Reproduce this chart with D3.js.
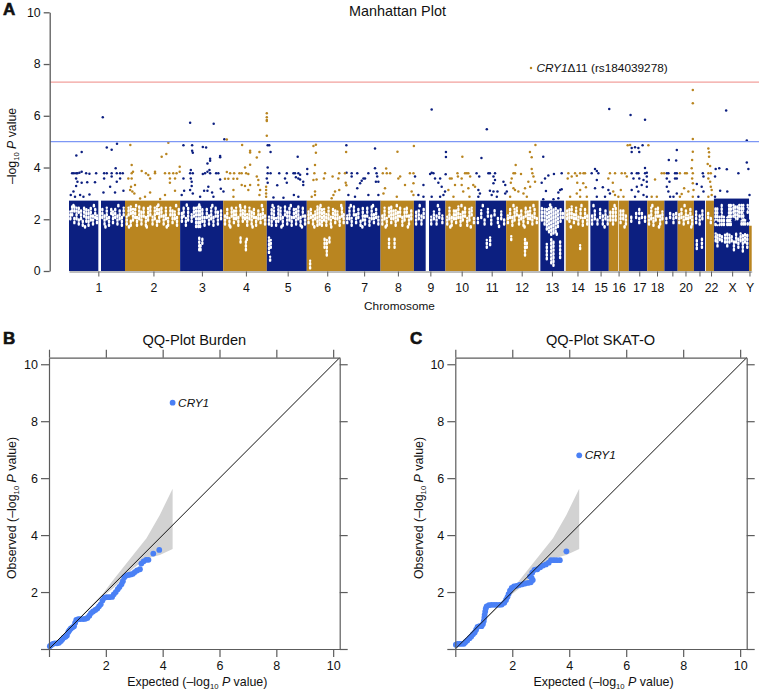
<!DOCTYPE html>
<html><head><meta charset="utf-8">
<script src="https://cdn.jsdelivr.net/npm/d3@7"></script>
<style>
html,body{margin:0;padding:0;background:#fff}
svg{display:block}
text{font-family:"Liberation Sans",Arial,sans-serif;fill:#111}
</style></head><body>
<svg id="c" width="765" height="696"></svg>
<script>
// ---------- Panel A data (cumulative genome position in Mb, -log10 P) ----------
const chromNames = ["1","2","3","4","5","6","7","8","9","10","11","12","13","14","15","16","17","18","19","20","21","22","X","Y"];
const chromStart = [0,252,500,694,890,1070,1244,1402,1552,1694,1830,1967,2121,2235,2346,2429,2519,2602,2679,2739,2812,2866,2902,3060];
const chromEnd   = [252,500,694,890,1070,1244,1402,1552,1694,1830,1967,2113,2228,2337,2429,2519,2602,2679,2739,2812,2862,2902,3060,3072];
const chromTicks = [132,380,598,796,984,1162,1328,1480,1626,1767,1902,2037,2173,2288,2392,2473,2566,2646,2715,2774,2837,2889,2984,3062];
const chromTickLabels = ["1","2","3","4","5","6","7","8","9","10","11","12","13","14","15","16","17","18","","20","","22","X","Y"];
const chromTop = [2.72,2.72,2.72,2.72,2.72,2.72,2.72,2.72,2.72,2.72,2.72,2.72,2.72,2.72,2.72,2.72,2.72,2.72,2.72,2.72,2.72,2.72,2.8,1.75];
const centromereGaps = [[132,144],[1605,1620],[2471,2474]];
const genomeWideLine = 7.3;
const suggestiveLine = 5;
const leadVariant = [2079,7.85];
const blueHits = [[152,5.94],[33,4.46],[57,4.6],[170,4.77],[192,4.69],[216,4.92],[210,3.97],[14,3.78],[22,3.78],[32,3.78],[38,3.78],[47,3.8],[57,3.84],[77,3.78],[92,3.76],[122,3.78],[158,3.78],[170,3.78],[192,3.78],[215,3.78],[230,3.78],[242,3.78],[32,3.58],[38,3.45],[57,3.41],[82,3.43],[117,3.43],[158,3.58],[192,3.65],[230,3.58],[215,3.45],[32,3.29],[20,3.07],[8,2.94],[27,2.87],[50,2.94],[65,2.87],[92,2.96],[155,3.03],[185,3.26],[207,3.03],[245,3.1],
[545,5.73],[651,5.69],[699,5.09],[515,4.86],[554,4.86],[554,4.65],[557,4.57],[602,4.79],[617,4.77],[635,4.34],[635,4.26],[623,4.16],[680,4.45],[680,4.4],[548,3.9],[545,3.78],[557,3.78],[515,3.58],[548,3.58],[552,3.45],[552,3.29],[545,3.13],[557,3],[518,3.1],[507,2.94],[602,3.75],[612,3.78],[623,3.84],[632,3.9],[635,3.78],[662,3.78],[672,3.78],[680,3.54],[683,3.18],[695,3.07],[627,3.26],[608,3.1],[623,3.1],[644,3.03],[590,2.87],[650,2.87],
[894,4.86],[901,4.86],[907,4.6],[894,4],[894,3.78],[907,3.78],[946,3.78],[980,3.78],[1010,3.78],[1017,3.78],[1032,3.78],[1040,3.72],[1021,3.62],[1032,3.58],[1040,3.54],[972,3.58],[980,3.41],[937,3.31],[894,3.41],[890,3.58],[1029,4.42],[1072,3.94],[1072,3.75],[1054,3.45],[1054,3.32],[1012,2.94],[1032,2.87],[965,2.83],[920,2.84],
[1248,4.86],[1377,4.74],[1377,3.97],[1249,3.8],[1272,3.78],[1272,3.65],[1297,3.78],[1347,3.78],[1332,3.58],[1317,3.49],[1310,3.39],[1297,3.2],[1325,3.58],[1384,3.78],[1387,3.65],[1381,3.45],[1392,3.45],[1257,2.94],[1287,2.87],[1347,2.94],[1392,2.94],
[1557,3.65],[1595,3.32],[1572,2.94],[1595,2.87],[1632,6.24],[1625,3.75],[1632,3.8],[1640,3.78],[1647,3.58],[1670,3.58],[1662,3.41],[1677,3.26],[1696,4.6],[1696,4.41],[1695,3.74],[1692,3.07],[1685,2.94],[1632,2.87],[1670,2.87],
[1880,5.48],[1856,4.37],[1834,3.78],[1846,3.65],[1887,3.78],[1894,3.78],[1917,3.78],[1910,3.65],[1917,3.52],[1910,3.39],[1849,3],[1842,3.13],[1894,3.1],[1910,3.07],[1928,3.07],[1902,2.94],[1925,2.87],[1955,3.45],[1963,3.32],[1963,3],[1970,3.07],[1842,2.87],
[2134,4.42],[2182,3.75],[2157,3.69],[2217,3.78],[2142,3.58],[2127,3.41],[2146,3.09],[2202,3.03],[2217,3.16],[2210,3.13],[2134,2.77],[2180,2.77],[2202,2.81],
[2431,6.26],[2367,3.94],[2375,3.87],[2382,3.78],[2352,3.78],[2375,3.52],[2367,3.2],[2402,3.24],[2427,3.13],[2434,3],[2375,2.87],[2412,2.87],
[2527,6.03],[2592,5.85],[2532,4.75],[2532,4.6],[2547,4.78],[2562,4.75],[2566,4.6],[2581,4.86],[2592,3.98],[2600,3.8],[2592,3.78],[2532,3.78],[2555,3.78],[2562,3.78],[2540,3.58],[2566,3.58],[2600,3.65],[2585,3.52],[2600,3.45],[2555,3.26],[2577,3.32],[2600,3.26],[2532,3.13],[2562,3.07],[2585,2.94],[2547,2.87],[2600,2.87],
[2699,4.29],[2732,4.27],[2735,4.68],[2690,3.78],[2697,3.78],[2690,3.58],[2702,3.45],[2690,3.26],[2697,3.07],[2705,2.87],[2727,3.78],[2735,3.78],[2727,3.58],[2735,3.58],[2720,2.87],[2735,3],
[2825,3.36],[2852,3.78],[2855,3.65],[2847,3.26],[2855,3.07],[2832,2.87],
[2910,3.94],[2926,3.97],[2960,3.93],[3012,3.78],[2957,6.2],[3050,5.04],[3050,4.19],[3057,3.94],[2907,3.65],[2930,3.1],[2962,3.07],[2907,2.87],[3062,2.94],
[2950,2.45],[2955,2.3],[2957,2.15],[2960,2.4],[2950,2.2],[2985,1.95],[2992,2],[3000,1.85],[3012,1.9],[3020,2],[3040,2.25],[3048,2.4],[3052,2.15],[3046,2.05],[2925,2.55],[2930,2.2],[2912,1.9],[2920,1.85],[3058,1.95]];
const goldHits = [[276,4.87],[282,4.1],[282,3.78],[288,3.84],[267,3.58],[282,3.58],[279,3.26],[297,3.32],[275,3.13],[285,3.07],[294,3],[327,3.87],[346,3.78],[357,3.71],[365,3.58],[387,3.84],[387,3.78],[417,4.42],[438,4.52],[447,4.96],[432,3.78],[451,3.78],[469,3.78],[484,3.78],[498,3.84],[498,4.03],[454,3.58],[454,3.41],[477,3.58],[477,3.1],[432,2.94],[410,2.78],[320,2.8],[365,3.03],[342,2.87],
[710,5.08],[779,4.87],[815,4.65],[815,4.58],[845,4.39],[857,4.6],[792,4],[815,4.11],[710,3.83],[725,3.78],[743,3.78],[767,3.78],[777,3.78],[797,3.78],[807,3.75],[702,3.57],[717,3.57],[740,3.57],[757,3.57],[777,3.32],[740,3.13],[807,3.13],[792,3.29],[815,3.32],[845,3.65],[852,3.52],[852,3.32],[860,3.13],[857,2.94],[740,2.87],[890,6.1],[890,5.94],[890,5.84],[890,5.8],[890,5.23],[887,3.26],[887,3.13],[887,3],[887,2.87],
[1100,4.83],[1111,4.88],[1111,4.57],[1107,4.1],[1104,3.78],[1152,3.78],[1216,3.78],[1212,3.58],[1186,3.65],[1114,3.54],[1100,3.52],[1147,3.58],[1107,3.07],[1107,2.94],[1092,2.87],[1216,3.13],[1197,3.07],[1190,2.94],[1182,2.81],[1247,4.6],[1242,3.78],[1245,3.41],[1248,3.31],
[1478,4.61],[1552,4.83],[1412,3.78],[1430,3.78],[1445,3.78],[1427,3.96],[1482,3.58],[1490,3.65],[1534,3.78],[1550,3.78],[1512,3.32],[1422,3.2],[1415,3],[1550,3.39],[1542,3.07],[1550,2.94],[1475,2.87],
[1770,4.42],[1748,3.78],[1750,3.65],[1714,3.58],[1722,3.58],[1767,3.58],[1797,3.78],[1790,3.78],[1782,3.78],[1805,3.65],[1737,3.32],[1707,3.13],[1767,3.32],[1819,3.32],[1827,3.26],[1774,3.07],[1797,3.2],[1730,2.87],[1802,2.87],
[2010,4.1],[2099,4.87],[2074,4.6],[2082,4.4],[2082,3.94],[2085,3.78],[2090,3.65],[2097,3.45],[2000,3.78],[2007,3.78],[2034,3.75],[1992,3.58],[1988,3.41],[2067,3.45],[2052,3.2],[2000,3.2],[2007,3.13],[2022,3.07],[2045,3],[2075,3.26],[1985,2.87],[2060,2.87],
[2247,3.78],[2262,3.65],[2277,3.78],[2285,3.68],[2300,3.78],[2315,3.78],[2322,3.78],[2244,3.58],[2287,3.41],[2314,3.39],[2300,3.13],[2285,3],[2326,3.24],[2255,2.87],[2300,2.87],[2330,2.87],
[2427,3.58],[2434,3.78],[2457,3.78],[2487,3.78],[2502,3.78],[2510,3.65],[2447,3.41],[2449,3.07],[2457,2.94],[2483,3.13],[2495,2.87],[2472,2.87],[2514,4.86],[2525,4.87],[2607,4.86],
[2637,3.54],[2667,3.78],[2678,3.78],[2622,2.87],[2645,2.87],
[2807,7],[2807,6.48],[2807,5.1],[2807,4.61],[2804,4.29],[2802,3.97],[2807,3.78],[2804,3.58],[2807,3.39],[2810,3.13],[2807,2.87],[2749,3.78],[2772,3.78],[2780,3.78],[2768,3.2],[2757,2.98],[2787,3.07],[2749,2.87],
[2877,4.74],[2880,4.59],[2880,4.42],[2874,4.14],[2885,4.06],[2877,3.78],[2888,3.78],[2877,3.58],[2885,3.45],[2888,3.26],[2892,3.13],[2877,2.87],[2892,2.94]];
// Regions of the dense band where few variants sit: [position Mb, low, high]
const bandGaps = [
[6,2,2.3],[14,2.15,2.5],[24,1.85,2.1],[24,2.3,2.5],[34,2,2.45],[44,1.8,2.05],[44,2.25,2.5],[54,2,2.35],[62,1.75,1.95],[68,2.1,2.45],[78,1.9,2.4],[88,1.75,2.35],[98,1.95,2.45],[108,1.8,2.2],[118,2.05,2.45],[126,1.85,2.15],[150,2.05,2.4],[160,1.8,2.2],[170,2,2.45],[180,1.75,2.1],[190,2.2,2.45],[198,1.85,2.3],[208,2.05,2.45],[218,1.8,2.15],[228,2,2.4],[238,1.75,2.1],[246,2.15,2.45],
[260,1.8,2.1],[268,2.15,2.45],[278,1.75,2],[278,2.2,2.5],[288,1.95,2.4],[298,2.05,2.45],[306,1.75,2.1],[316,2,2.5],[326,1.8,2.3],[336,2.1,2.5],[346,1.75,2.1],[356,1.95,2.45],[366,2.15,2.5],[376,1.8,2.1],[386,2,2.45],[396,1.75,1.95],[396,2.2,2.5],[406,1.9,2.4],[416,2.1,2.5],[426,1.8,2.2],[436,2,2.45],[446,1.75,2.05],[456,2.15,2.45],[466,1.85,2.4],[476,2,2.3],[486,1.75,2.1],[494,2.2,2.45],
[508,1.9,2.3],[516,2.1,2.45],[526,1.75,2.05],[536,1.95,2.5],[552,1.9,2.2],[562,2.1,2.5],[572,1.7,2.45],[582,1.7,2.5],[590,1.7,2.5],[600,1.9,2.45],[610,1.75,2.1],[620,2.05,2.45],[630,1.8,2.15],[640,2,2.45],[650,1.75,2.1],[660,2.1,2.45],[670,1.8,2.3],[684,2,2.4],[586,.8,1.3],[592,.8,1.05],[600,1.05,1.3],
[702,1.8,2.2],[712,2.05,2.45],[722,1.75,2.05],[732,2.1,2.5],[742,1.85,2.4],[752,2,2.45],[762,1.75,2.1],[772,2.15,2.45],[782,1.9,2.35],[792,2,2.5],[802,1.75,2.2],[812,2,2.45],[822,1.8,2.35],[832,2.05,2.45],[842,1.75,2.1],[852,2,2.4],[862,1.85,2.2],[872,2.05,2.45],[882,1.8,2.2],[796,.8,1.2],[772,1.1,1.3],[800,1.2,1.3],
[900,1.8,2.1],[912,1.75,2.4],[922,2,2.45],[932,1.75,2.05],[942,1.9,2.5],[952,2,2.45],[962,1.75,2.1],[972,2.15,2.5],[982,1.8,2.35],[992,1.95,2.45],[1002,1.75,2.15],[1012,2.05,2.45],[1022,1.8,2.4],[1032,2,2.5],[1042,1.75,2.1],[1052,2.1,2.45],[1062,1.8,2.2],[1085,0.1,.4],[900,.7,1.3],[908,.9,1.2],[905,.4,.55],
[1078,1.85,2.3],[1088,2.05,2.45],[1098,1.8,2.15],[1108,2,2.3],[1118,1.75,2.5],[1128,1.8,2.45],[1138,1.75,2.45],[1148,1.95,2.4],[1158,1.75,2.2],[1168,2,2.45],[1178,1.8,2.1],[1188,2.05,2.45],[1198,1.85,2.4],[1208,2,2.3],[1218,1.75,2.1],[1228,2.1,2.45],[1236,1.85,2.2],[1150,.9,1.3],[1160,.6,1.2],[1172,1.1,1.3],
[1252,1.85,2.15],[1262,2,2.45],[1272,1.75,2.05],[1282,2.15,2.5],[1292,1.85,2.25],[1302,2.05,2.4],[1312,1.75,2],[1322,1.95,2.45],[1332,1.8,2.15],[1342,2.1,2.45],[1352,1.75,2.05],[1362,2,2.5],[1372,1.85,2.2],[1382,2.05,2.45],[1392,1.8,2.1],
[1410,1.8,2.15],[1420,2,2.45],[1430,1.75,2.05],[1440,2.1,2.45],[1450,1.85,2.5],[1460,2,2.4],[1470,1.75,2.35],[1480,1.95,2.3],[1490,2.1,2.45],[1500,1.75,2.1],[1510,1.95,2.4],[1520,2.1,2.5],[1530,1.8,2.2],[1540,2,2.35],[1440,.9,1.25],[1465,.9,1.3],
[1562,1.8,2.3],[1574,2,2.4],[1586,1.8,2.15],[1596,2.05,2.4],[1630,1.8,2.1],[1642,2,2.3],[1654,1.8,2.15],[1666,2.05,2.4],[1680,1.85,2.15],
[1702,1.8,2.1],[1712,2,2.45],[1722,1.75,2.15],[1732,2,2.35],[1742,1.85,2.4],[1752,2.05,2.5],[1762,1.75,2.2],[1772,1.95,2.3],[1782,2.1,2.45],[1792,1.75,2.05],[1802,1.95,2.4],[1812,2.15,2.45],[1822,1.85,2.1],
[1840,1.85,2.1],[1855,2.05,2.35],[1870,1.8,2.05],[1885,2.1,2.4],[1900,1.8,2.15],[1915,2.15,2.4],[1930,1.85,2.1],[1945,2,2.3],[1958,1.8,2.05],[1880,.9,1.2],[1895,1,1.3],
[1975,1.85,2.15],[1985,2.05,2.45],[1995,1.75,2.1],[2005,1.95,2.4],[2015,2.15,2.45],[2025,1.8,2.2],[2035,2,2.4],[2045,1.75,2.1],[2055,2.1,2.45],[2065,1.85,2.3],[2075,2,2.45],[2085,1.8,2.15],[2095,2.05,2.4],[2105,1.85,2.1],[2052,.6,1.3],[2060,.9,1.1],[1990,1.2,1.35],
[2128,1.95,2.45],[2140,1.8,2.4],[2150,1.6,2.45],[2160,1.5,2.5],[2170,1.4,2.5],[2180,1.45,2.45],[2190,1.5,2.5],[2200,1.7,2.4],[2212,1.9,2.45],[2222,2.05,2.3],[2170,.3,1.3],[2180,.2,1.15],[2150,.45,1.05],[2210,.5,1.2],
[2242,2,2.4],[2252,1.9,2.45],[2262,2.05,2.5],[2272,1.85,2.2],[2282,2,2.45],[2292,1.8,2.1],[2302,2.05,2.45],[2312,1.75,2.05],[2322,2.05,2.4],[2332,1.8,2.15],[2300,.85,1],
[2354,1.8,2.15],[2366,2,2.35],[2378,1.8,2.05],[2390,2.05,2.4],[2402,1.8,2.15],[2414,2,2.4],[2424,1.8,2.1],
[2436,1.95,2.35],[2448,1.8,2.4],[2460,1.95,2.45],[2482,1.85,2.35],[2494,2,2.4],[2506,1.8,2.2],
[2530,1.9,2.1],[2552,2.05,2.3],[2566,1.85,2.1],[2566,2.2,2.4],[2578,2.05,2.3],[2592,1.9,2.15],
[2610,1.8,2.15],[2620,2,2.45],[2630,1.75,2.05],[2640,1.95,2.4],[2650,2.1,2.5],[2660,1.8,2.2],[2670,2,2.3],
[2688,1.85,2.1],[2705,2.05,2.3],[2720,1.85,2.2],[2732,2.05,2.3],
[2746,1.85,2.2],[2756,2.05,2.45],[2766,1.8,2.1],[2776,2,2.4],[2786,1.85,2.15],[2796,2.05,2.4],[2804,1.8,2.1],
[2822,1.85,2.3],[2838,1.8,2.15],[2850,2,2.4],[2825,.85,1.2],[2848,.9,1.3],
[2876,2.05,2.3],[2888,1.85,2.05],
[2909,1.78,2.45],[2917,1.78,2.5],[2927,1.78,2.1],[2937,1.78,2.55],[2947,1.78,2.1],[2962,1.78,2.1],[2970,1.78,2.55],[2978,1.78,2.55],[2990,2.1,2.55],[2998,2,2.55],[3008,2,2.55],[3016,2.1,2.55],[3026,1.8,2.55],[3034,1.8,2.55],[3042,1.8,2.05],[3054,1.8,1.9],[3054,2.25,2.55],
[2910,1.15,1.45],[2918,.95,1.4],[2928,1.2,1.45],[2938,1.15,1.42],[2952,1.1,1.4],[2962,.95,1.45],[2972,1.1,1.4],[2982,1.15,1.42],[2992,.8,1.2],[3002,1.1,1.45],[3012,.9,1.3],[3022,1.15,1.45],[3032,.75,1.4],[3042,1.1,1.42],[3052,.9,1.4],
// thinner patches near the edges of the band
[20,2.5,2.6],[72,1.68,1.8],[112,2.5,2.58],[164,1.68,1.76],[222,2.5,2.6],[270,1.68,1.78],[302,2.5,2.6],[350,1.68,1.78],[402,2.52,2.6],[440,1.68,1.78],[482,2.5,2.58],[530,2.52,2.6],[586,2.52,2.62],[645,2.5,2.58],[726,1.68,1.78],[770,2.5,2.6],[826,1.68,1.78],[868,2.5,2.58],[916,2.5,2.6],[956,1.68,1.78],[998,2.5,2.58],[1048,1.68,1.76],[1104,1.68,1.8],[1132,2.5,2.6],[1180,1.68,1.76],[1225,2.5,2.58],[1268,2.5,2.6],[1320,1.68,1.78],[1368,2.5,2.58],[1425,1.68,1.78],[1475,2.5,2.6],[1525,1.68,1.76],[1578,2.5,2.58],[1660,2.5,2.6],[1716,1.68,1.78],[1766,2.5,2.58],[1808,1.68,1.78],[1862,2.5,2.58],[1935,1.7,1.78],[2000,2.5,2.6],[2050,1.68,1.78],[2090,2.5,2.58],[2165,2.52,2.6],[2195,1.4,1.5],[2258,1.68,1.78],[2306,2.5,2.6],[2360,2.5,2.58],[2410,1.68,1.76],[2455,2.5,2.6],[2500,1.68,1.78],[2625,2.5,2.6],[2655,1.68,1.78],[2770,2.5,2.58],[2800,1.68,1.76]];

// ---------- Panels B and C data (expected, observed) ----------
const burdenQQ = [[.03,.1],[.08,.14],[.14,.18],[.2,.2],[.28,.2],[.35,.22],[.42,.28],[.47,.34],[.52,.4],[.58,.43],[.63,.47],[.68,.6],[.72,.66],[.77,.72],[.83,.76],[.88,.8],[.92,.92],[.96,1.02],[1.03,1.05],[1.1,1.05],[1.2,1.05],[1.28,1.06],[1.35,1.09],[1.42,1.17],[1.48,1.26],[1.55,1.32],[1.63,1.37],[1.7,1.42],[1.76,1.5],[1.82,1.57],[1.88,1.7],[1.95,1.8],[2.03,1.82],[2.12,1.82],[2.22,1.83],[2.28,1.92],[2.35,2],[2.42,2.1],[2.48,2.18],[2.55,2.27],[2.6,2.38],[2.65,2.52],[2.72,2.58],[2.8,2.6],[2.88,2.62],[2.95,2.64],[3.02,2.7],[3.1,2.76],[3.2,2.8],[3.25,3],[3.33,3.08],[3.42,3.13],[3.5,3.13],[3.67,3.35],[3.88,3.48]];
const skatQQ = [[.02,.15],[.08,.18],[.15,.18],[.22,.18],[.3,.18],[.35,.24],[.42,.3],[.5,.38],[.56,.44],[.62,.52],[.68,.58],[.73,.68],[.78,.78],[.85,.8],[.92,.8],[.97,.88],[1,.98],[1.02,1.1],[1.03,1.2],[1.05,1.32],[1.07,1.42],[1.1,1.5],[1.18,1.54],[1.27,1.55],[1.36,1.55],[1.45,1.55],[1.55,1.55],[1.63,1.56],[1.72,1.62],[1.78,1.72],[1.83,1.82],[1.87,1.93],[1.92,2.05],[1.98,2.15],[2.06,2.2],[2.15,2.22],[2.25,2.25],[2.35,2.27],[2.45,2.3],[2.55,2.32],[2.65,2.34],[2.72,2.42],[2.68,2.5],[2.62,2.55],[2.7,2.68],[2.78,2.78],[2.88,2.8],[2.98,2.87],[3.08,2.93],[3.18,2.97],[3.28,3.03],[3.36,3.12],[3.46,3.12],[3.56,3.12],[3.67,3.12],[3.9,3.43]];
const burdenHit = [4.35,8.65];
const skatHit = [4.35,6.8];
const ciExpected = [0,1.9,2.26,2.96,3.43,3.9,4.35];
const ciUpper = [0,1.95,2.42,3.3,3.89,4.71,5.63];
const ciLower = [0,1.85,2.13,2.83,3.18,3.3,3.51];
const qqTicks = [0,2,4,6,8,10];
const mhYTicks = [0,2,4,6,8,10];

// ---------- Drawing ----------
const NAVY="#0c1f80", GOLD="#b98520", AXIS="#5c5c5c", DOT="#4a80f5";
const svg=d3.select("#c");
function label(sel,x,y,parts,o={}){
  const t=sel.append("text").attr("x",x).attr("y",y).attr("font-size",o.size||12).attr("text-anchor",o.anchor||"start");
  if(o.rotate) t.attr("transform",`rotate(-90 ${x} ${y})`);
  parts.forEach(p=>{
    const s=t.append("tspan").text(p.t);
    if(p.i) s.attr("font-style","italic");
    if(p.sub) s.attr("font-size",(o.size||12)*.62).attr("dy",(o.size||12)*.25);
    if(p.after) s.attr("dy",-(o.size||12)*.25);
  });
  return t;
}
function letter(x,y,s){
  svg.append("text").attr("x",x).attr("y",y).attr("font-size",17).attr("font-weight","bold")
    .attr("stroke","#111").attr("stroke-width",.6).text(s);
}
function styleAxis(g,w,fs){
  g.selectAll(".domain,.tick line").attr("stroke",AXIS).attr("stroke-width",w);
  g.selectAll("text").attr("font-size",fs).attr("font-family",'"Liberation Sans",Arial,sans-serif').attr("fill","#111");
}

// Panel A
const mx=d3.scaleLinear().domain([0,3072]).range([69,751.7]);
const my=d3.scaleLinear().domain([0,10]).range([271,12.3]);
const A=svg.append("g");
const xEnd=759;
chromNames.forEach((n,i)=>{
  A.append("rect").attr("x",mx(chromStart[i])).attr("y",my(chromTop[i]))
    .attr("width",mx(chromEnd[i])-mx(chromStart[i])).attr("height",my(0)-my(chromTop[i]))
    .attr("fill",i%2?GOLD:NAVY);
});
A.selectAll("rect.g").data(centromereGaps).join("rect").attr("class","g")
  .attr("x",d=>mx(d[0])).attr("y",my(3)).attr("width",d=>mx(d[1])-mx(d[0])).attr("height",my(0)-my(3)).attr("fill","#fff");
A.append("g").selectAll("line").data(bandGaps).join("line")
  .attr("x1",d=>mx(d[0])).attr("x2",d=>mx(d[0])).attr("y1",d=>my(d[1])).attr("y2",d=>my(d[2]))
  .attr("stroke","#fff").attr("stroke-width",2.4).attr("stroke-linecap","round").attr("stroke-dasharray","1.3 2.5");
[[blueHits,NAVY],[goldHits,GOLD],[[leadVariant],GOLD]].forEach(([arr,c])=>{
  A.append("g").selectAll("circle").data(arr).join("circle")
    .attr("cx",d=>mx(d[0])).attr("cy",d=>my(d[1])).attr("r",1.25).attr("fill",c);
});
[[genomeWideLine,"#f2a09c"],[suggestiveLine,"#7d97f5"]].forEach(([v,c])=>{
  A.append("line").attr("x1",50).attr("x2",xEnd).attr("y1",my(v)).attr("y2",my(v)).attr("stroke",c).attr("stroke-width",1.3);
});
const gY=A.append("g").attr("transform","translate(49.7,0)")
  .call(d3.axisLeft(my).tickValues(mhYTicks).tickSize(6).tickSizeOuter(0).tickPadding(3));
styleAxis(gY,1.3,12.3);
const gX=A.append("g").attr("transform",`translate(0,${my(0)+.5})`)
  .call(d3.axisBottom(mx).tickValues(chromTicks).tickFormat((d,i)=>chromTickLabels[i]).tickSize(5).tickSizeOuter(0).tickPadding(7));
styleAxis(gX,1,12.3);
gX.select(".domain").attr("stroke-width",.8);
label(A,397.5,15.7,[{t:"Manhattan Plot"}],{size:14.4,anchor:"middle"});
label(A,399.5,310,[{t:"Chromosome"}],{size:11.8,anchor:"middle"});
label(A,16,146,[{t:"–log"},{t:"10",sub:1},{t:" ",after:1},{t:"P",i:1},{t:" value"}],{size:12.3,anchor:"middle",rotate:1});
label(A,mx(leadVariant[0])+5.5,my(leadVariant[1])+4,[{t:"CRY1",i:1},{t:"Δ11 (rs184039278)"}],{size:11.8});
letter(3,15,"A");

// Panels B, C
function qq(left,right,data,hit,title,cx,ylx,lx){
  const top=357.7,bottom=649,lim=10.23;
  const x=d3.scaleLinear().domain([0,lim]).range([left,right]);
  const y=d3.scaleLinear().domain([0,lim]).range([bottom,top]);
  const g=svg.append("g");
  const band=d3.area().x(d=>x(d[0])).y0(d=>y(d[1])).y1(d=>y(d[2]));
  g.append("path").datum(ciExpected.map((e,i)=>[e,ciLower[i],ciUpper[i]])).attr("d",band).attr("fill","#d2d2d2");
  g.append("g").selectAll("circle").data(data.concat([hit])).join("circle")
    .attr("cx",d=>x(d[0])).attr("cy",d=>y(d[1])).attr("r",2.9).attr("fill",DOT);
  g.append("line").attr("x1",x(0)).attr("y1",y(0)).attr("x2",x(lim)).attr("y2",y(lim)).attr("stroke","#111").attr("stroke-width",1);
  const fmt=d=>d===0?"":d;
  const b=g.append("g").attr("transform",`translate(0,${bottom})`).call(d3.axisBottom(x).tickValues(qqTicks).tickFormat(fmt).tickSize(8).tickSizeOuter(0).tickPadding(4));
  const l=g.append("g").attr("transform",`translate(${left},0)`).call(d3.axisLeft(y).tickValues(qqTicks).tickFormat(fmt).tickSize(8).tickSizeOuter(0).tickPadding(3));
  const t=g.append("g").attr("transform",`translate(0,${top})`).call(d3.axisTop(x).tickValues(qqTicks).tickFormat("").tickSize(8).tickSizeOuter(0));
  const r=g.append("g").attr("transform",`translate(${right},0)`).call(d3.axisRight(y).tickValues(qqTicks).tickFormat("").tickSize(8).tickSizeOuter(0));
  [b,l,t,r].forEach(a=>styleAxis(a,1.2,12.5));
  label(g,x(hit[0])+5.5,y(hit[1])+4,[{t:"CRY1",i:1}],{size:11.8});
  label(g,cx,344.5,[{t:title}],{size:14.6,anchor:"middle"});
  label(g,cx+3,686,[{t:"Expected (–log"},{t:"10",sub:1},{t:" ",after:1},{t:"P",i:1},{t:" value)"}],{size:12.4,anchor:"middle"});
  label(g,ylx,508,[{t:"Observed (–log"},{t:"10",sub:1},{t:" ",after:1},{t:"P",i:1},{t:" value)"}],{size:12.4,anchor:"middle",rotate:1});
  letter(lx,344,title.includes("Burden")?"B":"C");
}
qq(49,339.7,burdenQQ,burdenHit,"QQ-Plot Burden",194.3,16,3);
qq(455.3,746.7,skatQQ,skatHit,"QQ-Plot SKAT-O",600.5,423,410);
</script></body></html>
